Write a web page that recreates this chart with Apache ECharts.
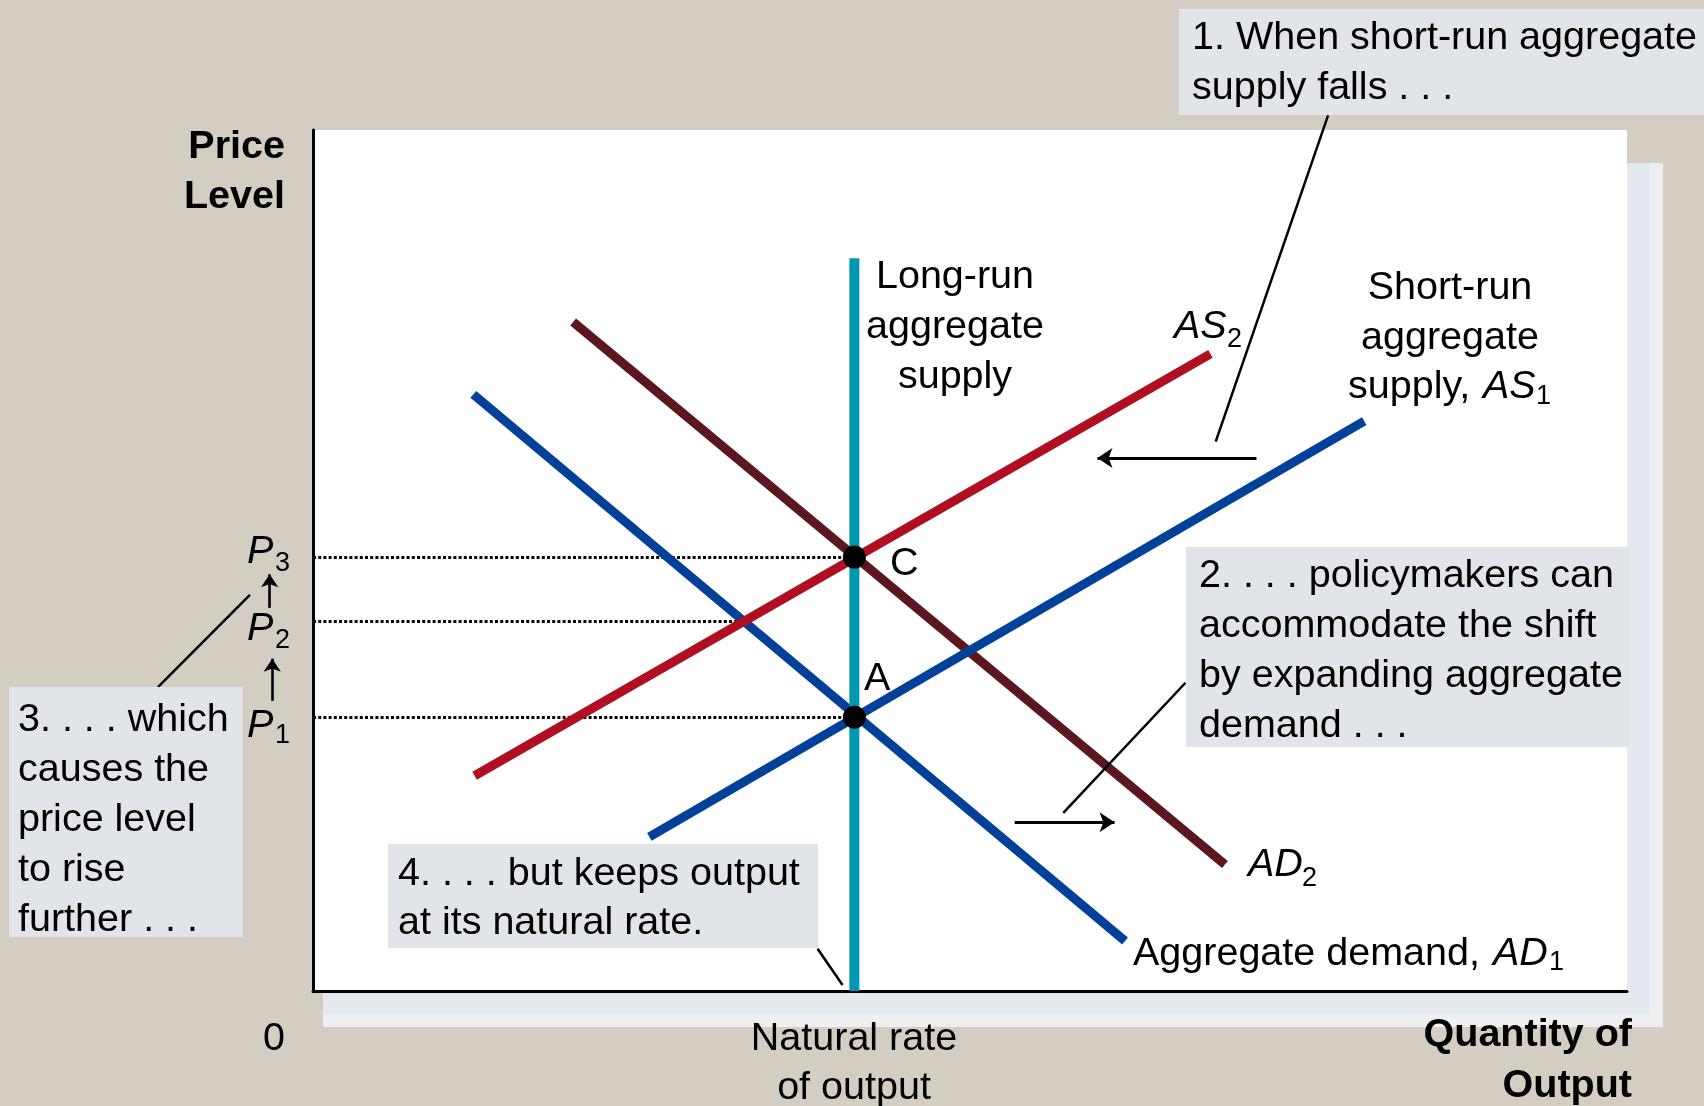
<!DOCTYPE html>
<html><head><meta charset="utf-8">
<script src="https://cdn.jsdelivr.net/npm/echarts@6/dist/echarts.min.js"></script>
<style>html,body{margin:0;padding:0;background:#d4cdc2}#c{width:1704px;height:1106px}</style>
</head><body><div id="c"></div>
<script>
// ---- Data (x: quantity of output, y: price level; arbitrary units, axes 0-100) ----
const naturalRate = 41.2;
const lras = [[41.2, 0], [41.2, 85.1]];
const as1 = [[25.6, 17.9], [80.0, 66.2]];
const as2 = [[12.3, 25.0], [68.3, 74.0]];
const ad1 = [[12.2, 69.3], [61.8, 5.8]];
const ad2 = [[19.8, 77.7], [69.4, 14.7]];
const pointNames = ['A', 'C'];
const pointValues = [[41.2, 31.8], [41.2, 50.4]];
const priceNames = ['P1', 'P2', 'P3'];
const priceValues = [31.8, 42.9, 50.4];
const guideEnds = [41.2, 32.8, 41.2];
const asShiftArrow = [[71.8, 61.9], [59.7, 61.9]];
const adShiftArrow = [[53.4, 19.6], [61.0, 19.6]];
const priceArrows = [[[-3.1, 33.7], [-3.1, 38.6]], [[-3.3, 44.5], [-3.3, 48.4]]];
const leader1 = [[77.25, 101.7], [68.7, 63.8]];
const leader2 = [[66.4, 35.8], [57.1, 20.7]];
const leader3 = [[-4.8, 46.0], [-11.8, 35.3]];
const leader4 = [[38.4, 4.9], [40.3, 0.7]];

const FONT = '"Liberation Sans", Arial, Helvetica, sans-serif';
const FS = 39.5;
const DY = 3;
function txt(x, y, s, o) {
  o = o || {};
  const size = o.size || FS;
  const font = (o.italic ? 'italic ' : '') + (o.bold ? 'bold ' : '') + size + 'px ' + FONT;
  return {
    type: 'text', x: x, y: y + DY, z: 30, silent: true,
    style: { text: s, fill: '#000', font: font,
      align: o.align || 'left', verticalAlign: 'middle',
      textAlign: o.align || 'left', textVerticalAlign: 'middle' }
  };
}
function box(x, y, w, h) {
  return { type: 'rect', z: 20, silent: true, shape: { x: x, y: y, width: w, height: h }, style: { fill: '#e1e4e9' } };
}
const SUB = 27;
const graphics = [
  { type: 'rect', z: -10, silent: true, shape: { x: 323, y: 163, width: 1340, height: 864 }, style: { fill: '#e4e8ef' } },
  { type: 'rect', z: -9, silent: true, shape: { x: 1650, y: 163, width: 13, height: 864 }, style: { fill: '#eeeff3' } },
  { type: 'rect', z: -9, silent: true, shape: { x: 323, y: 1014, width: 1340, height: 13 }, style: { fill: '#eeeff3' } },
  box(1179, 9, 525, 106),
  box(1186, 547, 444, 200),
  box(9, 687, 234, 250),
  box(388, 844, 430, 104),
  txt(1192, 35, '1. When short-run aggregate'),
  txt(1192, 85, 'supply falls . . .'),
  txt(1199, 573, '2. . . . policymakers can'),
  txt(1199, 623, 'accommodate the shift'),
  txt(1199, 673, 'by expanding aggregate'),
  txt(1199, 723, 'demand . . .'),
  txt(18, 717, '3. . . . which'),
  txt(18, 767, 'causes the'),
  txt(18, 817, 'price level'),
  txt(18, 867, 'to rise'),
  txt(18, 917, 'further . . .'),
  txt(398, 871, '4. . . . but keeps output'),
  txt(398, 920, 'at its natural rate.'),
  txt(285, 144, 'Price', { bold: true, align: 'right' }),
  txt(285, 194, 'Level', { bold: true, align: 'right' }),
  txt(1632, 1032, 'Quantity of', { bold: true, align: 'right' }),
  txt(1632, 1083, 'Output', { bold: true, align: 'right' }),
  txt(274, 1036, '0', { align: 'center' }),
  txt(854, 1036, 'Natural rate', { align: 'center' }),
  txt(854, 1085, 'of output', { align: 'center' }),
  txt(955, 274, 'Long-run', { align: 'center' }),
  txt(955, 324, 'aggregate', { align: 'center' }),
  txt(955, 374, 'supply', { align: 'center' }),
  txt(1450, 285, 'Short-run', { align: 'center' }),
  txt(1450, 335, 'aggregate', { align: 'center' }),
  txt(1348, 384, 'supply,'),
  txt(1483, 384, 'AS', { italic: true }),
  txt(1536, 394, '1', { size: SUB }),
  txt(1174, 324, 'AS', { italic: true }),
  txt(1227, 337, '2', { size: SUB }),
  txt(1248, 862, 'AD', { italic: true }),
  txt(1302, 876, '2', { size: SUB }),
  txt(1133, 951, 'Aggregate demand,'),
  txt(1493, 951, 'AD', { italic: true }),
  txt(1549, 960, '1', { size: SUB }),
  txt(890, 561, 'C'),
  txt(864, 676, 'A'),
  txt(247, 549, 'P', { italic: true }),
  txt(275, 561, '3', { size: SUB }),
  txt(247, 626, 'P', { italic: true }),
  txt(275, 638, '2', { size: SUB }),
  txt(247, 723, 'P', { italic: true }),
  txt(275, 733, '1', { size: SUB })
];

function curve(name, data, color, width) {
  return { name: name, type: 'line', data: data, showSymbol: false, symbol: 'none', silent: true, z: 3,
    lineStyle: { color: color, width: width, cap: 'butt' } };
}

const guides = priceValues.map((p, i) => ({ coords: [[0, p], [guideEnds[i], p]] }));

const option = {
  animation: false,
  backgroundColor: '#d4cdc2',
  grid: { left: 313, top: 130, width: 1314, height: 861, show: true, backgroundColor: '#ffffff', borderWidth: 0 },
  xAxis: { type: 'value', min: 0, max: 100, axisLine: { show: true, onZero: false, lineStyle: { color: '#000', width: 3 } },
    axisTick: { show: false }, axisLabel: { show: false }, splitLine: { show: false } },
  yAxis: { type: 'value', min: 0, max: 100, axisLine: { show: true, onZero: false, lineStyle: { color: '#000', width: 3 } },
    axisTick: { show: false }, axisLabel: { show: false }, splitLine: { show: false } },
  graphic: { elements: graphics },
  series: [
    { type: 'lines', coordinateSystem: 'cartesian2d', z: 2, silent: true, clip: false, symbol: 'none',
      lineStyle: { color: '#000', width: 3, type: [3, 2.2], opacity: 1, curveness: 0 },
      data: guides },
    curve('AD1', ad1, '#02409a', 9),
    curve('AD2', ad2, '#5b1620', 9),
    curve('AS2', as2, '#b00f22', 9),
    curve('AS1', as1, '#02409a', 9),
    curve('LRAS', lras, '#0097b0', 10),
    { type: 'scatter', z: 10, silent: true, symbolSize: 23, itemStyle: { color: '#000', opacity: 1 },
      data: pointValues.map((v, i) => ({ name: pointNames[i], value: v })) },
    { type: 'lines', coordinateSystem: 'cartesian2d', z: 6, silent: true, clip: false, symbol: 'none',
      lineStyle: { color: '#000', width: 2.5, opacity: 1, curveness: 0 },
      data: [leader1, leader2, leader3, leader4].map(c => ({ coords: c })) },
    { type: 'lines', coordinateSystem: 'cartesian2d', z: 6, silent: true, clip: false,
      symbol: ['none', 'arrow'], symbolSize: [11, 15],
      lineStyle: { color: '#000', width: 2.8, opacity: 1, curveness: 0 },
      data: [asShiftArrow, adShiftArrow].map(c => ({ coords: c })) },
    { type: 'lines', coordinateSystem: 'cartesian2d', z: 6, silent: true, clip: false,
      symbol: ['none', 'arrow'], symbolSize: [9, 13],
      lineStyle: { color: '#000', width: 2.6, opacity: 1, curveness: 0 },
      data: priceArrows.map(c => ({ coords: c })) }
  ]
};
const chart = echarts.init(document.getElementById('c'), null, { renderer: 'canvas' });
chart.setOption(option);
</script></body></html>
